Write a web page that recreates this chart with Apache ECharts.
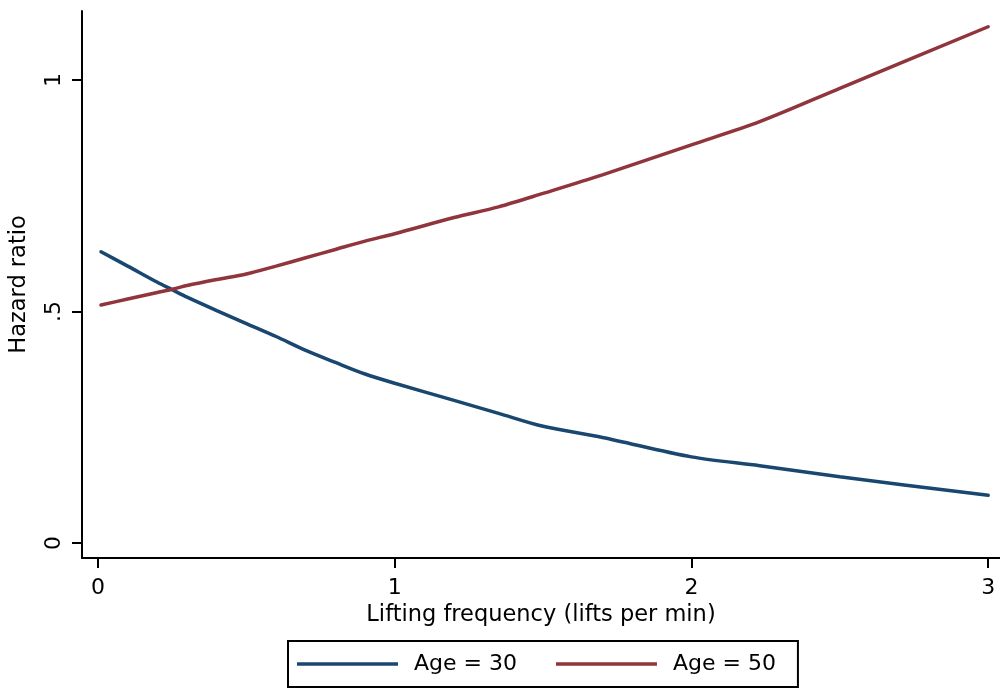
<!DOCTYPE html>
<html>
<head>
<meta charset="utf-8">
<script src="https://cdn.jsdelivr.net/npm/echarts@6/dist/echarts.min.js"></script>
<style>
html,body{margin:0;padding:0;background:#fff;}
#chart{width:1000px;height:691px;}
</style>
</head>
<body>
<div id="chart"></div>
<script>
const xValues = [0.01, 0.1, 0.2, 0.25, 0.3, 0.4, 0.5, 0.6, 0.7, 0.8, 0.9, 1.0, 1.2, 1.35, 1.5, 1.7, 2.0, 2.23, 2.5, 3.0];
const age30 = [0.629, 0.598, 0.563, 0.547, 0.531, 0.502, 0.474, 0.446, 0.416, 0.390, 0.365, 0.345, 0.308, 0.280, 0.252, 0.228, 0.186, 0.167, 0.143, 0.103];
const age50 = [0.514, 0.527, 0.541, 0.548, 0.556, 0.569, 0.581, 0.598, 0.616, 0.634, 0.652, 0.668, 0.703, 0.726, 0.755, 0.795, 0.860, 0.910, 0.982, 1.115];
const xTicks = [0, 1, 2, 3];
const yTicks = [0, 0.5, 1];
const yTickLabels = ['0', '.5', '1'];
const seriesNames = ['Age = 30', 'Age = 50'];

const FONT = 'DejaVu Sans';
const chart = echarts.init(document.getElementById('chart'), null, {renderer: 'canvas'});
const pair = (ys) => xValues.map((x, i) => [x, ys[i]]);

chart.setOption({
  animation: false,
  backgroundColor: '#ffffff',
  grid: {left: 81, right: 0, top: 11, bottom: 133, containLabel: false},
  xAxis: {
    type: 'value',
    min: -0.054, max: 3.04,
    name: 'Lifting frequency (lifts per min)',
    nameLocation: 'middle',
    nameGap: 46,
    nameTextStyle: {fontFamily: FONT, fontSize: 22.5, color: '#000'},
    axisLine: {show: true, onZero: false, lineStyle: {color: '#000', width: 2}},
    axisTick: {show: true, length: 10, customValues: xTicks, lineStyle: {color: '#000', width: 2}},
    axisLabel: {customValues: xTicks, margin: 19, fontFamily: FONT, fontSize: 22, color: '#000',
      formatter: (v) => String(v)},
    splitLine: {show: false}
  },
  yAxis: {
    type: 'value',
    min: -0.0324, max: 1.149,
    name: 'Hazard ratio',
    nameLocation: 'middle',
    nameGap: 51,
    nameRotate: 90,
    nameTextStyle: {fontFamily: FONT, fontSize: 22.5, color: '#000'},
    axisLine: {show: true, onZero: false, lineStyle: {color: '#000', width: 2}},
    axisTick: {show: true, length: 10, customValues: yTicks, lineStyle: {color: '#000', width: 2}},
    axisLabel: {customValues: yTicks, margin: 17, rotate: 90, fontFamily: FONT, fontSize: 22, color: '#000',
      formatter: (v) => { const i = yTicks.findIndex(t => Math.abs(t - v) < 1e-9); return i >= 0 ? yTickLabels[i] : ''; }},
    splitLine: {show: false}
  },
  legend: {
    left: 288, top: 641,
    padding: [12, 22, 12, 9],
    borderColor: '#000', borderWidth: 2,
    itemWidth: 101, itemHeight: 3.5, itemGap: 39,
    icon: 'rect',
    textStyle: {fontFamily: FONT, fontSize: 22, color: '#000', padding: [0, 0, 0, 11]},
    data: seriesNames
  },
  series: [
    {name: seriesNames[0], type: 'line', data: pair(age30), symbol: 'none', smooth: 0.3,
      lineStyle: {color: '#1a476f', width: 3.5, cap: 'round'}, itemStyle: {color: '#1a476f'}},
    {name: seriesNames[1], type: 'line', data: pair(age50), symbol: 'none', smooth: 0.3,
      lineStyle: {color: '#90353b', width: 3.5, cap: 'round'}, itemStyle: {color: '#90353b'}}
  ]
});
</script>
</body>
</html>
